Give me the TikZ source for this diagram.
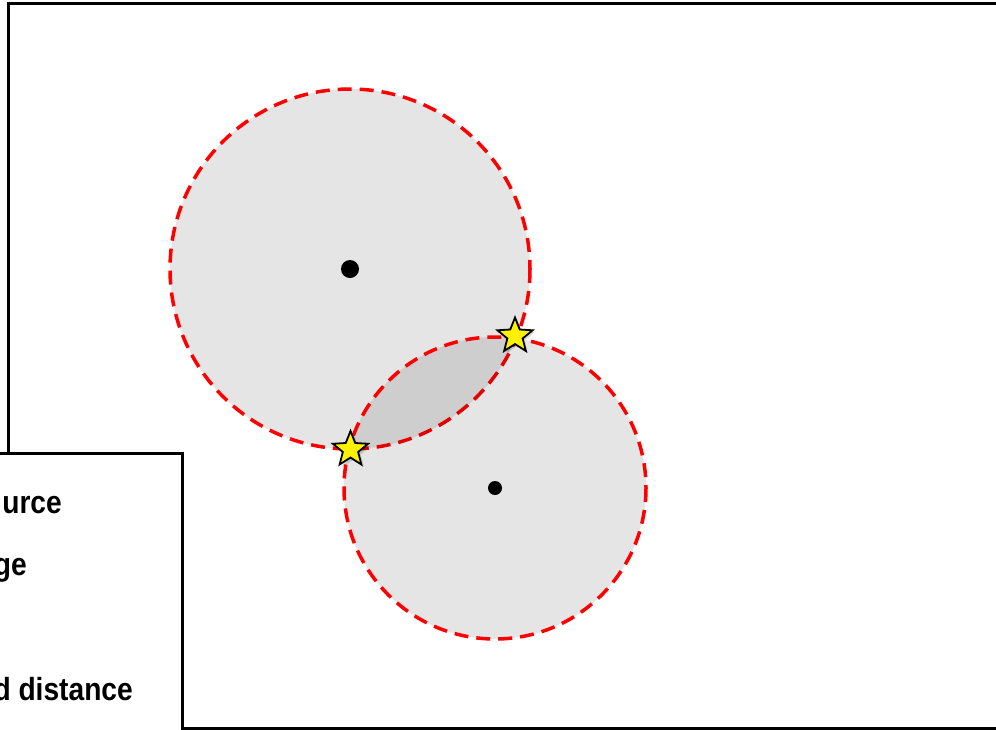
\documentclass[tikz,border=0pt]{standalone}
\usepackage{fontspec}
\setmainfont{Liberation Sans}[FakeStretch=0.88]
\usetikzlibrary{shapes.geometric}
\tikzset{
  frame/.style={draw=black,line width=3pt},
  zone/.style={fill=black,fill opacity=0.1,draw=red,draw opacity=1,line width=3.5pt,dash pattern=on 14pt off 8pt},
  dotmark/.style={circle,fill=black,inner sep=0pt},
  starshape/.style={star,star points=5,star point ratio=2.3,minimum size=37pt,inner sep=0pt},
  starmark/.style={starshape,fill=yellow,draw=black,line width=1.8pt},
  legendtext/.style={font=\bfseries\fontsize{32pt}{34pt}\selectfont,inner sep=0pt,anchor=base east}
}
\begin{document}
\begin{tikzpicture}[x=1pt,y=-1pt]
\useasboundingbox (0,0) rectangle (996,729);
\draw[frame] (8,3) rectangle (1010,728.5);
% zones
\draw[zone] (350,269) circle (180);
\draw[zone] (495,488) circle (151);
\node[dotmark,minimum size=18pt] (c1) at (350,269) {};
\node[dotmark,minimum size=14pt] (c2) at (495,488) {};
% intersection stars with faint shadow
\node[starshape,fill=black,opacity=0.15] (sh1) at (353,452) {};
\node[starshape,fill=black,opacity=0.15] (sh2) at (517,338) {};
\node[starmark] (s1) at (350.5,449.5) {};
\node[starmark] (s2) at (515,336) {};
% legend box
\draw[frame,fill=white] (-20,453.5) rectangle (182,760);
\node[legendtext] (l1) at (62,513) {urce};
\node[legendtext] (l2) at (27,575) {ge};
\node[legendtext] (l3) at (133,700) {d distance};
\end{tikzpicture}
\end{document}
